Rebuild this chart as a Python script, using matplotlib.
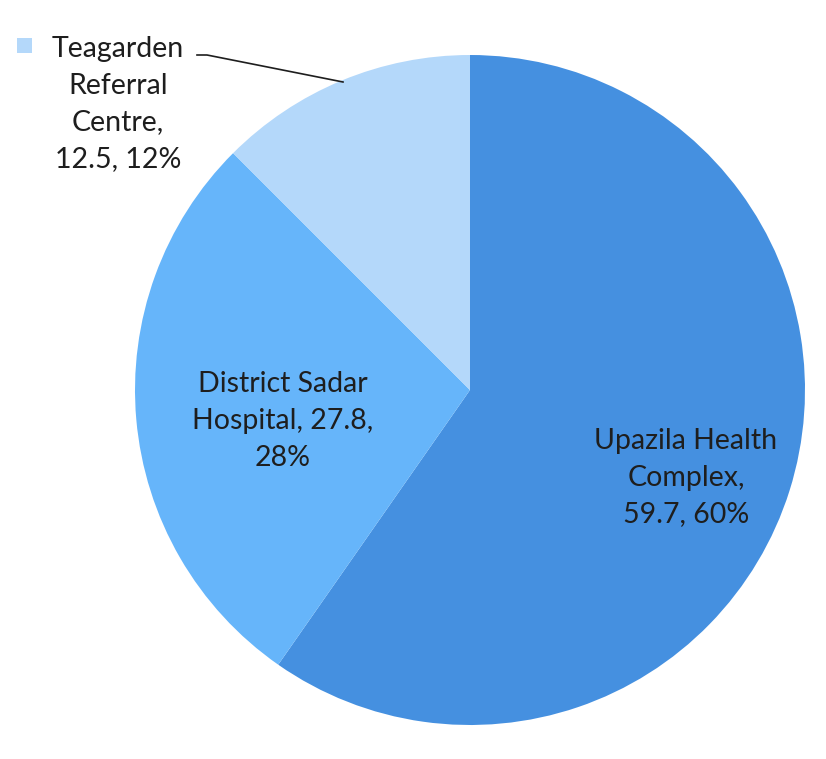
import matplotlib.pyplot as plt
from matplotlib.patches import Rectangle

# data
values = [59.7, 27.8, 12.5]
names = ['Upazila Health Complex', 'District Sadar Hospital', 'Teagarden Referral Centre']
percents = ['60%', '28%', '12%']
colors = ['#4590E0', '#66B5FA', '#B4D8FA']

plt.rcParams['font.family'] = ['Lato', 'DejaVu Sans']

H = 759
fig = plt.figure(figsize=(8.26, 7.59), dpi=100)
ax = fig.add_axes([0, 0, 1, 1])

# pie, clockwise from the top
ax.pie(values, colors=colors, startangle=90, counterclock=False,
       center=(470, H - 390), radius=335, frame=True,
       wedgeprops=dict(linewidth=0))
ax.set_xlim(0, 826)
ax.set_ylim(0, H)
ax.set_aspect('equal')
ax.axis('off')

tc = '#1E1E1E'
fs = 20.5
ls = 1.5
ax.text(686, H - 478, 'Upazila Health\nComplex,\n%.1f, %s' % (values[0], percents[0]),
        ha='center', va='center', fontsize=fs, color=tc, linespacing=ls)
ax.text(283, H - 421, 'District Sadar\nHospital, %.1f,\n%s' % (values[1], percents[1]),
        ha='center', va='center', fontsize=fs, color=tc, linespacing=ls)
ax.text(118, H - 104, 'Teagarden\nReferral\nCentre,\n%.1f, %s' % (values[2], percents[2]),
        ha='center', va='center', fontsize=fs, color=tc, linespacing=ls)

# legend key and leader line for the small slice
ax.add_patch(Rectangle((17, H - 53), 15, 15, color=colors[2], lw=0))
ax.plot([197, 207, 343], [H - 55, H - 55, H - 82], color='#1E1E1E', lw=1.2)

fig.savefig('out.png', dpi=100)
